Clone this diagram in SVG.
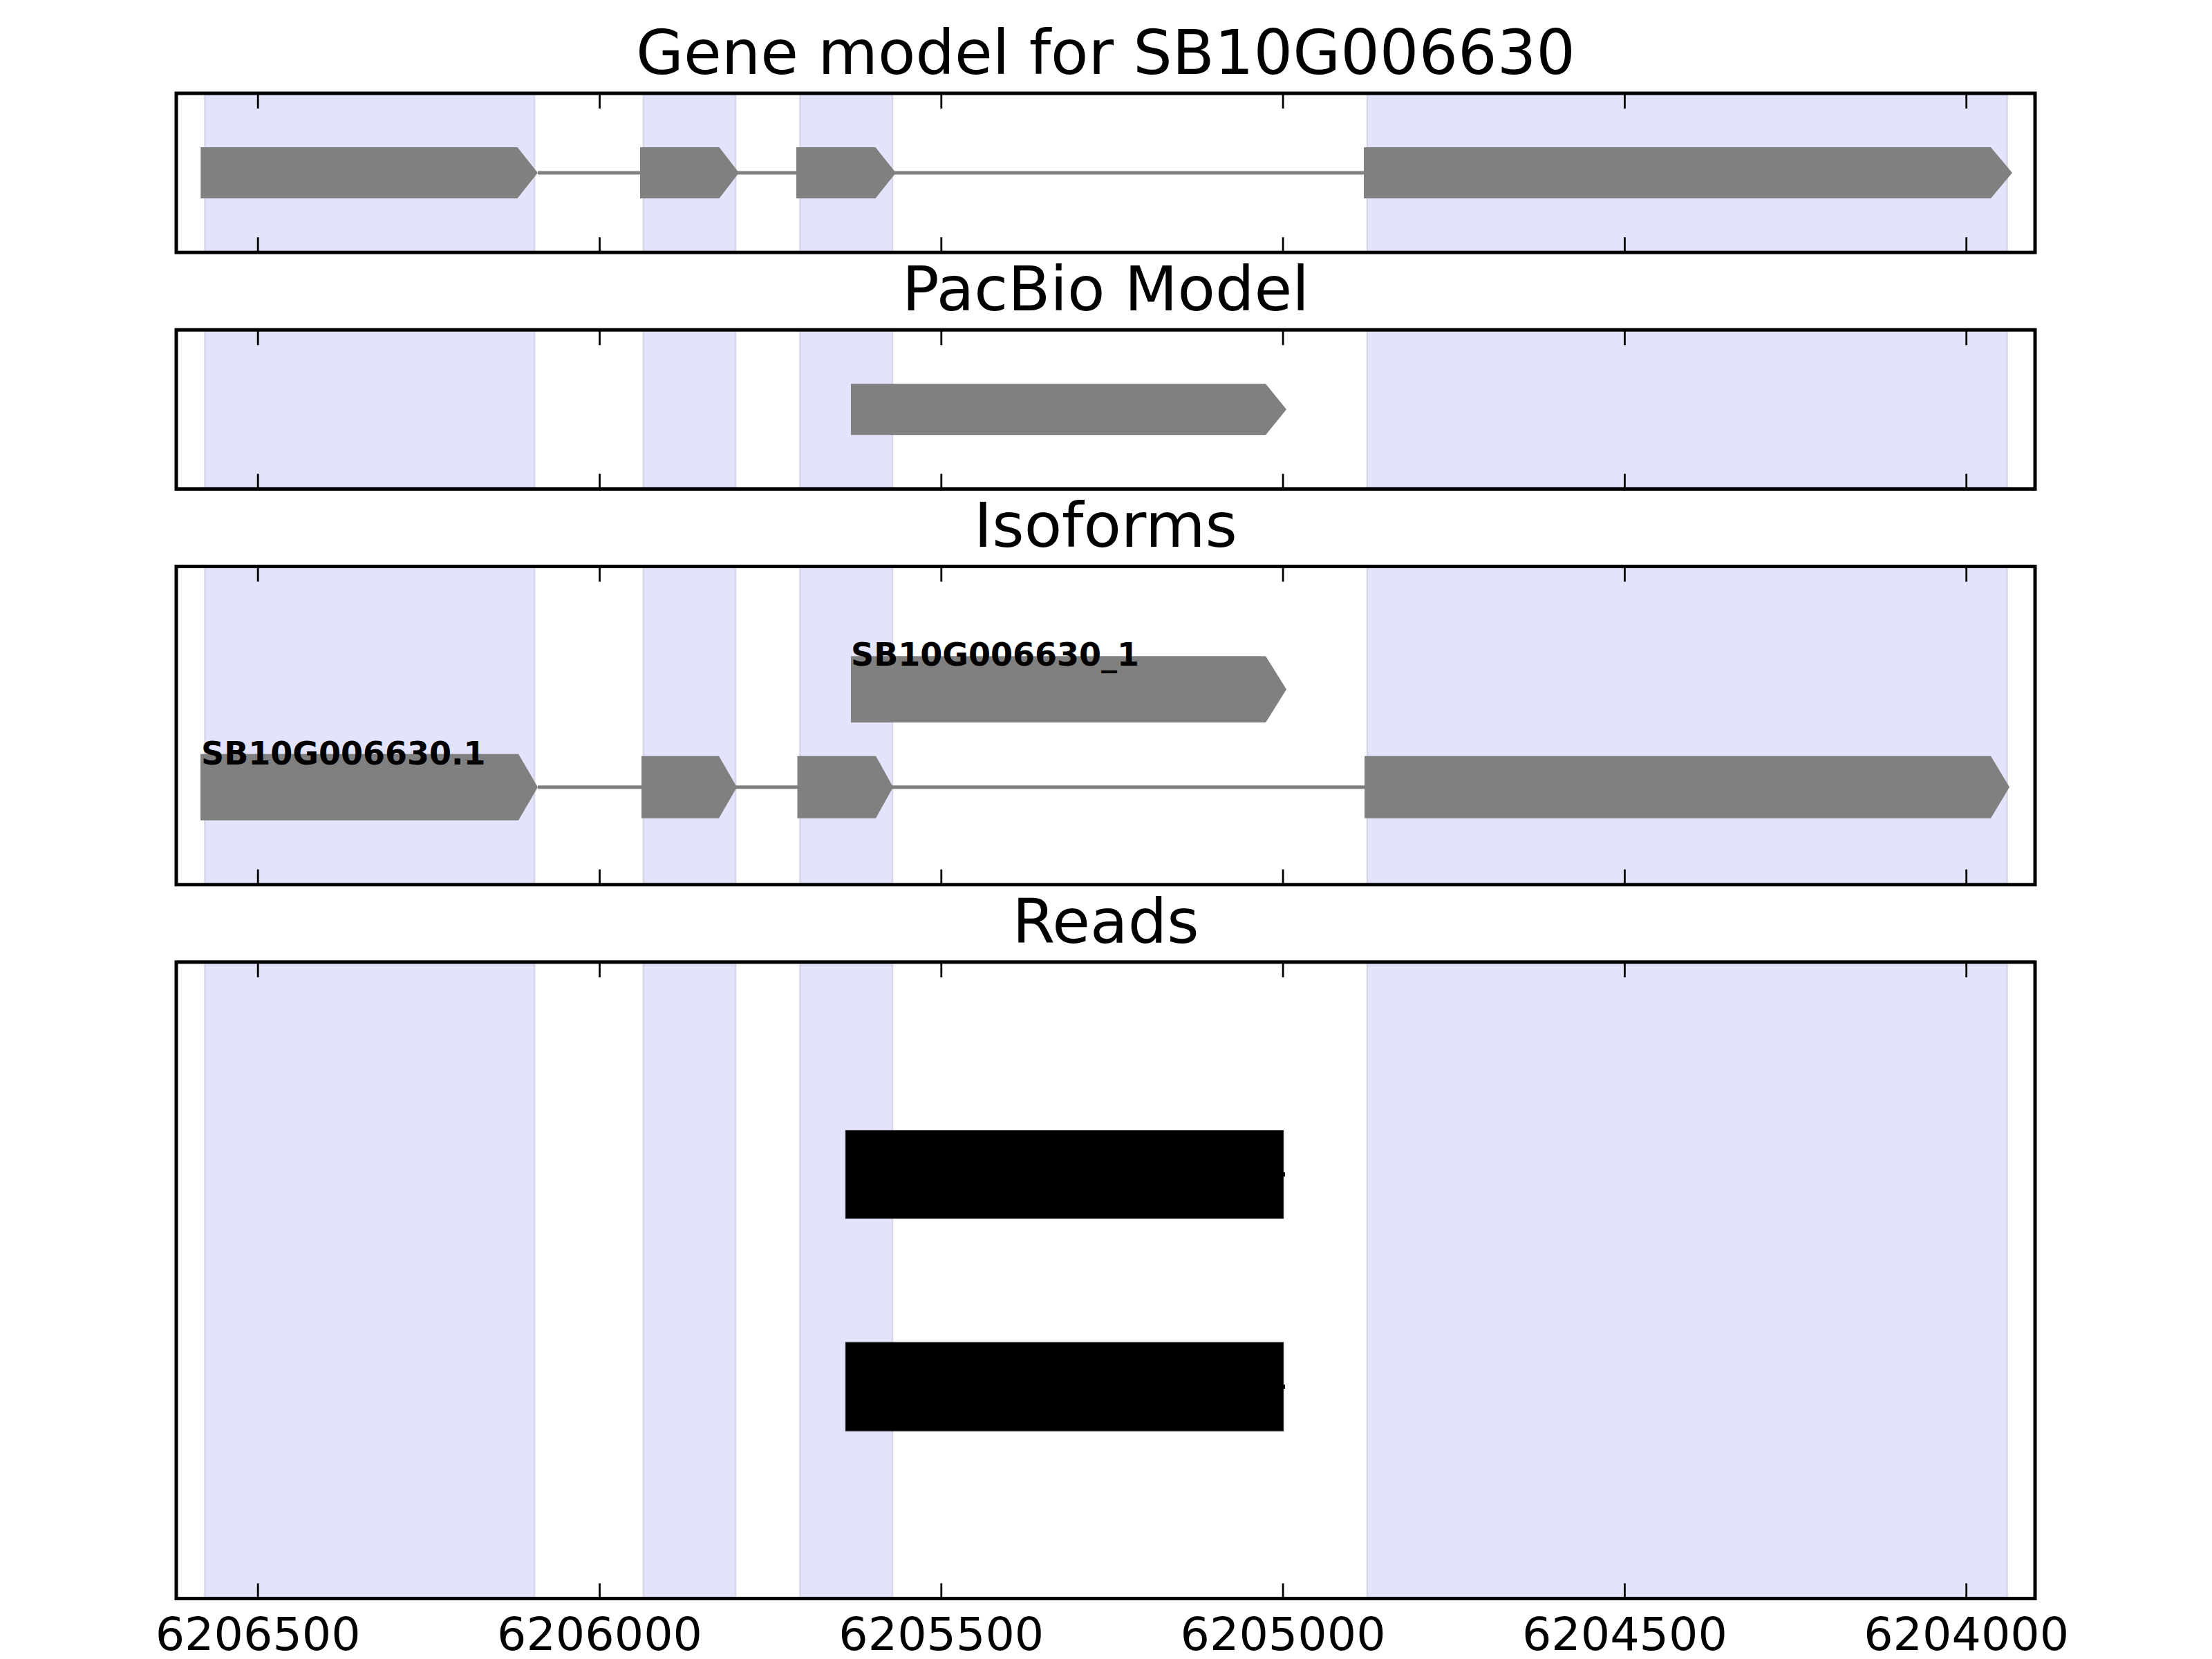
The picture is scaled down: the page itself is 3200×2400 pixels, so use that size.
<svg xmlns="http://www.w3.org/2000/svg" width="3200" height="2400" viewBox="0 0 3200 2400">
<style>
.bg{fill:#ffffff}
.band{fill:#e3e3fc;stroke:#d6d6ea;stroke-width:2.5}
.exon{fill:#808080;stroke:none}
.intron{stroke:#808080;stroke-width:5;fill:none}
.read{fill:#000000;stroke:#2a2a2a;stroke-width:1.2}
.frame{fill:none;stroke:#000000;stroke-width:5}
.tick{stroke:#000000;stroke-width:2.8}
.title{font-family:"DejaVu Sans","Liberation Sans",sans-serif;font-size:89px;text-anchor:middle;fill:#000}
.ticklabel{font-family:"DejaVu Sans","Liberation Sans",sans-serif;font-size:66.7px;text-anchor:middle;fill:#000}
.iso{font-family:"DejaVu Sans","Liberation Sans",sans-serif;font-size:46px;font-weight:bold;fill:#000}
</style>
<defs>
<g id="ticks1">
<path class="tick" d="M373.2,0v22M867.5,0v22M1361.8,0v22M1856.1,0v22M2350.4,0v22M2844.7,0v22"/>
</g>
<g id="ticks2">
<path class="tick" d="M373.2,0v-22M867.5,0v-22M1361.8,0v-22M1856.1,0v-22M2350.4,0v-22M2844.7,0v-22"/>
</g>
</defs>
<rect class="bg" x="0" y="0" width="3200" height="2400"/>

<!-- Panel 1: Gene model -->
<g id="panel-gene-model">
<text class="title" x="1599.5" y="107">Gene model for SB10G006630</text>
<g id="bands-1">
<rect class="band" x="296.5" y="135" width="476.5" height="230.2"/>
<rect class="band" x="931" y="135" width="133" height="230.2"/>
<rect class="band" x="1157.5" y="135" width="133.5" height="230.2"/>
<rect class="band" x="1978" y="135" width="925.5" height="230.2"/>
</g>
<line class="intron" x1="778" y1="250" x2="1973" y2="250"/>
<g id="gene-exon-1"><polygon class="exon" points="290.3,213 748.5,213 778,250 748.5,287 290.3,287"/></g>
<g id="gene-exon-2"><polygon class="exon" points="926,213 1040.5,213 1069,250 1040.5,287 926,287"/></g>
<g id="gene-exon-3"><polygon class="exon" points="1152,213 1266.5,213 1296,250 1266.5,287 1152,287"/></g>
<g id="gene-exon-4"><polygon class="exon" points="1973,213 2880,213 2911,250 2880,287 1973,287"/></g>
<rect class="frame" x="255" y="135" width="2689" height="230.2"/>
<use href="#ticks1" y="135"/>
<use href="#ticks2" y="365.2"/>
</g>

<!-- Panel 2: PacBio Model -->
<g id="panel-pacbio">
<text class="title" x="1599.5" y="449.2">PacBio Model</text>
<g id="bands-2">
<rect class="band" x="296.5" y="477.2" width="476.5" height="230.2"/>
<rect class="band" x="931" y="477.2" width="133" height="230.2"/>
<rect class="band" x="1157.5" y="477.2" width="133.5" height="230.2"/>
<rect class="band" x="1978" y="477.2" width="925.5" height="230.2"/>
</g>
<g id="pacbio-exon"><polygon class="exon" points="1231,555.3 1831,555.3 1861,592.3 1831,629.3 1231,629.3"/></g>
<rect class="frame" x="255" y="477.2" width="2689" height="230.2"/>
<use href="#ticks1" y="477.2"/>
<use href="#ticks2" y="707.4"/>
</g>

<!-- Panel 3: Isoforms -->
<g id="panel-isoforms">
<text class="title" x="1599.5" y="791.4">Isoforms</text>
<g id="bands-3">
<rect class="band" x="296.5" y="819.4" width="476.5" height="460.4"/>
<rect class="band" x="931" y="819.4" width="133" height="460.4"/>
<rect class="band" x="1157.5" y="819.4" width="133.5" height="460.4"/>
<rect class="band" x="1978" y="819.4" width="925.5" height="460.4"/>
</g>
<g id="isoform-pacbio">
<polygon class="exon" points="1231,949.3 1831,949.3 1861,997.3 1831,1045.3 1231,1045.3"/>
<text class="iso" x="1231" y="963">SB10G006630_1</text>
</g>
<g id="isoform-gene">
<line class="intron" x1="778" y1="1138.7" x2="1974" y2="1138.7"/>
<polygon class="exon" points="290,1090.7 750,1090.7 778,1138.7 750,1186.7 290,1186.7"/>
<polygon class="exon" points="928,1093.7 1040,1093.7 1066,1138.7 1040,1183.7 928,1183.7"/>
<polygon class="exon" points="1153.5,1093.7 1267,1093.7 1292,1138.7 1267,1183.7 1153.5,1183.7"/>
<polygon class="exon" points="1974,1093.7 2880,1093.7 2907,1138.7 2880,1183.7 1974,1183.7"/>
<text class="iso" x="291" y="1106">SB10G006630.1</text>
</g>
<rect class="frame" x="255" y="819.4" width="2689" height="460.4"/>
<use href="#ticks1" y="819.4"/>
<use href="#ticks2" y="1279.8"/>
</g>

<!-- Panel 4: Reads -->
<g id="panel-reads">
<text class="title" x="1599.5" y="1363.8">Reads</text>
<g id="bands-4">
<rect class="band" x="296.5" y="1391.8" width="476.5" height="920.8"/>
<rect class="band" x="931" y="1391.8" width="133" height="920.8"/>
<rect class="band" x="1157.5" y="1391.8" width="133.5" height="920.8"/>
<rect class="band" x="1978" y="1391.8" width="925.5" height="920.8"/>
</g>
<g id="read-1">
<rect class="read" x="1223.4" y="1635.5" width="633.2" height="127"/>
<rect x="1856" y="1696" width="3" height="6" fill="#000"/>
</g>
<g id="read-2">
<rect class="read" x="1223.4" y="1942" width="633.2" height="128"/>
<rect x="1856" y="2003" width="3" height="6" fill="#000"/>
</g>
<rect class="frame" x="255" y="1391.8" width="2689" height="920.8"/>
<use href="#ticks1" y="1391.8"/>
<use href="#ticks2" y="2312.6"/>
</g>

<g id="connectors"></g>

<g id="x-axis-labels">
<text class="ticklabel" x="373.2" y="2387">6206500</text>
<text class="ticklabel" x="867.5" y="2387">6206000</text>
<text class="ticklabel" x="1361.8" y="2387">6205500</text>
<text class="ticklabel" x="1856.1" y="2387">6205000</text>
<text class="ticklabel" x="2350.4" y="2387">6204500</text>
<text class="ticklabel" x="2844.7" y="2387">6204000</text>
</g>
</svg>
